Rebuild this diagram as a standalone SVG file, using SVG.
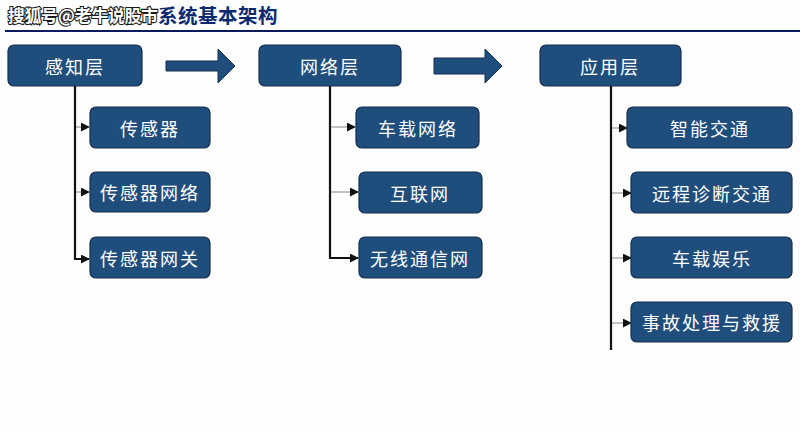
<svg xmlns="http://www.w3.org/2000/svg" width="800" height="431" viewBox="0 0 800 431">
<style>
.box{fill:#1f4e7c;stroke:#152f4f;stroke-width:1.2}
.lbl{font-family:"Noto Sans CJK SC","Noto Sans",sans-serif;font-size:18px;fill:#ffffff;text-anchor:middle;dominant-baseline:central;letter-spacing:2px}
.main{fill:none;stroke:#111111;stroke-width:2.2}
.br{fill:none;stroke:#9a9a9a;stroke-width:1.2}
.big{fill:#1f4e7c;stroke:#152f4f;stroke-width:1}
</style>
<defs>
<marker id="ah" viewBox="0 0 10 10" refX="9" refY="5" markerWidth="9" markerHeight="9" markerUnits="userSpaceOnUse" orient="auto">
<path d="M0,0 L10,5 L0,10 Z" fill="#111111"/>
</marker>
</defs>
<rect x="0" y="0" width="800" height="431" fill="#fdfdfd"/>
<g id="title">
<text x="8" y="22" font-family="Noto Sans CJK SC,sans-serif" font-size="17.5" font-weight="bold" fill="#ffffff" stroke="#1a1a1a" stroke-width="2.2" paint-order="stroke" textLength="150" lengthAdjust="spacingAndGlyphs">搜狐号@老牛说股市</text>
<text x="158" y="23" font-family="Noto Sans CJK SC,sans-serif" font-size="19.5" font-weight="bold" fill="#0e2a6e" letter-spacing="0.5">系统基本架构</text>
<line x1="5" y1="31" x2="800" y2="31" stroke="#0a1a5c" stroke-width="2.2"/>
</g>
<g id="flow-arrows">
<path class="big" d="M166,61 H218 V49 L235,66 L218,83 V71 H166 Z"/>
<path class="big" d="M434,58 H485 V49 L502,66 L485,83 V74 H434 Z"/>
</g>
<g id="connectors">
<path class="main" d="M75,86 V259 H89" marker-end="url(#ah)"/>
<path class="br" d="M76,127 H89" marker-end="url(#ah)"/>
<path class="br" d="M76,192 H89" marker-end="url(#ah)"/>
<path class="main" d="M330,86 V258 H358" marker-end="url(#ah)"/>
<path class="br" d="M331,127 H355" marker-end="url(#ah)"/>
<path class="br" d="M331,192 H358" marker-end="url(#ah)"/>
<path class="main" d="M611,86 V350"/>
<path class="br" d="M612,128 H627" marker-end="url(#ah)"/>
<path class="br" d="M612,193 H631" marker-end="url(#ah)"/>
<path class="br" d="M612,258 H631" marker-end="url(#ah)"/>
<path class="br" d="M612,323 H631" marker-end="url(#ah)"/>
</g>
<g id="n-ganzhi"><rect class="box" x="8" y="45" width="134" height="41" rx="6"/><text class="lbl" x="75" y="66">感知层</text></g>
<g id="n-wangluo"><rect class="box" x="259" y="45" width="142" height="41" rx="6"/><text class="lbl" x="330" y="66">网络层</text></g>
<g id="n-yingyong"><rect class="box" x="540" y="45" width="141" height="41" rx="6"/><text class="lbl" x="610" y="66">应用层</text></g>
<g id="n-cgq"><rect class="box" x="90" y="107" width="120" height="41" rx="6"/><text class="lbl" x="150" y="128">传感器</text></g>
<g id="n-cgqwl"><rect class="box" x="90" y="172" width="120" height="40" rx="6"/><text class="lbl" x="150" y="192">传感器网络</text></g>
<g id="n-cgqwg"><rect class="box" x="90" y="237" width="120" height="41" rx="6"/><text class="lbl" x="150" y="258">传感器网关</text></g>
<g id="n-czwl"><rect class="box" x="356" y="107" width="123" height="41" rx="6"/><text class="lbl" x="418" y="128">车载网络</text></g>
<g id="n-hlw"><rect class="box" x="359" y="172" width="123" height="41" rx="6"/><text class="lbl" x="420" y="193">互联网</text></g>
<g id="n-wxtxw"><rect class="box" x="359" y="237" width="123" height="41" rx="6"/><text class="lbl" x="420" y="258">无线通信网</text></g>
<g id="n-znjt"><rect class="box" x="627" y="107" width="165" height="41" rx="6"/><text class="lbl" x="710" y="128">智能交通</text></g>
<g id="n-ycjd"><rect class="box" x="631" y="172" width="161" height="41" rx="6"/><text class="lbl" x="712" y="193">远程诊断交通</text></g>
<g id="n-czyl"><rect class="box" x="631" y="237" width="161" height="41" rx="6"/><text class="lbl" x="712" y="258">车载娱乐</text></g>
<g id="n-sgcl"><rect class="box" x="631" y="302" width="161" height="40" rx="6"/><text class="lbl" x="712" y="322">事故处理与救援</text></g>
</svg>
